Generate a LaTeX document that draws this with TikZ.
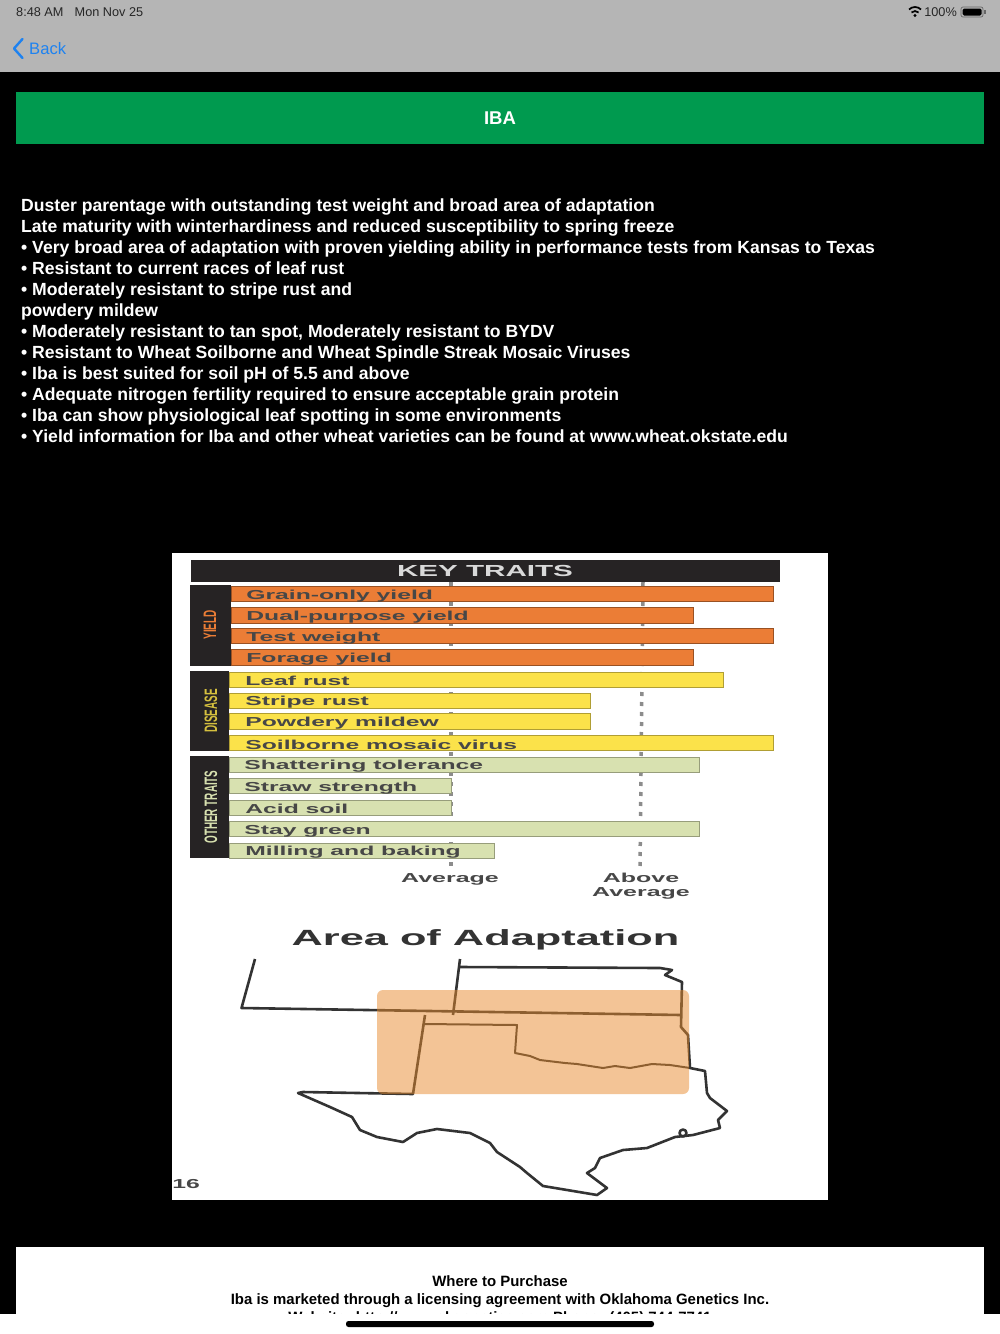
\documentclass[tikz,border=0pt]{standalone}
\usepackage{fontspec}
\setmainfont{Liberation Sans}
\usetikzlibrary{positioning}

\definecolor{barsgray}{HTML}{B5B5B5}
\definecolor{backblue}{HTML}{1E82F0}
\definecolor{headgreen}{HTML}{009A4F}
\definecolor{traitdark}{HTML}{262324}
\definecolor{traitorange}{HTML}{EB7D36}
\definecolor{traityellow}{HTML}{FBE24A}
\definecolor{traitgreen}{HTML}{D8E1B0}
\definecolor{areaorange}{HTML}{E88B2E}

\tikzset{
  statustext/.style={text=black!85, inner sep=0pt, font=\fontsize{12.7}{15}\selectfont},
  bodytext/.style={text=white, inner sep=0pt, align=left, font=\fontsize{17.6}{21}\selectfont\bfseries},
  buytext/.style={text=black, inner sep=0pt, align=center, font=\fontsize{14.95}{18}\selectfont\bfseries},
  orangebar/.style={fill=traitorange, draw=black!35!traitorange, line width=1pt},
  yellowbar/.style={fill=traityellow, draw=black!30!traityellow, line width=1pt},
  greenbar/.style={fill=traitgreen, draw=black!30!traitgreen, line width=1pt},
  barlabel/.style={anchor=west, inner sep=0pt, text=black!72, xscale=1.9, font=\fontsize{13}{15}\selectfont\bfseries},
  sidelabel/.style={rotate=90, inner sep=0pt, font=\fontsize{18}{20}\selectfont\bfseries},
  axislabel/.style={inner sep=0pt, text=black!72, align=center, xscale=1.92, font=\fontsize{13}{14}\selectfont\bfseries},
  border/.style={draw=black!80, line width=2.6pt, line join=round},
  stateline/.style={draw=black!80, line width=2pt, line join=round},
  reference/.style={draw=black!45, line width=3.5pt, dash pattern=on 4pt off 6pt},
}

\begin{document}
\begin{tikzpicture}[x=1pt, y=-1pt]
  \useasboundingbox (0,0) rectangle (1000,1334);
  \fill[black] (0,0) rectangle (1000,1334);

  % Top bar
  \fill[barsgray] (0,0) rectangle (1000,72);
  \node[statustext, anchor=west] (clock) at (16,12) {8:48 AM};
  \node[statustext, anchor=west] (today) at (74.5,12) {Mon Nov 25};
  \node[statustext, anchor=east] (charge) at (957,12) {100\%};
  \draw[black!60, line width=0.7pt, rounded corners=2pt] (961,7) rectangle (983,17);
  \fill[black, rounded corners=1.5pt] (962.5,8.5) rectangle (981.5,15.5);
  \fill[black!60] (984,10) rectangle (985.5,14);
  \fill[black] (915,15.5) circle (1.6pt);
  \draw[black, line width=1.7pt] (911.5,12.5) arc (-135:-45:5);
  \draw[black, line width=1.7pt] (909,9.5) arc (-135:-45:8.5);
  \draw[backblue, line width=2.4pt, line cap=round, line join=round] (22.5,39) -- (14,48.5) -- (22.5,58);
  \node[anchor=west, inner sep=0pt, text=backblue, font=\fontsize{16.6}{20}\selectfont] (back) at (29,48.5) {Back};

  % Title
  \fill[headgreen] (16,92) rectangle (984,144);
  \node[inner sep=0pt, text=white, font=\fontsize{18.5}{22}\selectfont\bfseries] (title) at (500,118) {IBA};

  % Description
  \node[bodytext, anchor=north west] (blurb) at (21,198.5) {Duster parentage with outstanding test weight and broad area of adaptation\\
    Late maturity with winterhardiness and reduced susceptibility to spring freeze\\
    • Very broad area of adaptation with proven yielding ability in performance tests from Kansas to Texas\\
    • Resistant to current races of leaf rust\\
    • Moderately resistant to stripe rust and\\
    powdery mildew\\
    • Moderately resistant to tan spot, Moderately resistant to BYDV\\
    • Resistant to Wheat Soilborne and Wheat Spindle Streak Mosaic Viruses\\
    • Iba is best suited for soil pH of 5.5 and above\\
    • Adequate nitrogen fertility required to ensure acceptable grain protein\\
    • Iba can show physiological leaf spotting in some environments\\
    • Yield information for Iba and other wheat varieties can be found at www.wheat.okstate.edu};

  % Picture panel
  \fill[white] (172,553) rectangle (828,1200);

  % Reference lines
  \draw[reference] (451,582) -- (451,868);
  \draw[reference] (643,582) -- (640,868);

  % Header and side blocks
  \fill[traitdark] (191,560) rectangle (780,582);
  \node[inner sep=0pt, text=black!15, xscale=1.85, font=\fontsize{16}{18}\selectfont\bfseries] (keytraits) at (485,571) {KEY TRAITS};
  \fill[traitdark] (190,585) rectangle (231,666);
  \fill[traitdark] (190,671) rectangle (229,751);
  \fill[traitdark] (190,756) rectangle (229,858);
  \node[sidelabel, text=traitorange] (yield) at (210,625) {\scalebox{.55}[1]{YIELD}};
  \node[sidelabel, text=traityellow!85!black] (disease) at (211,711) {\scalebox{.55}[1]{DISEASE}};
  \node[sidelabel, text=traitgreen] (other) at (211,807) {\scalebox{.55}[1]{OTHER TRAITS}};

  % Yield bars
  \draw[orangebar] (231,586) rectangle (773,601);
  \draw[orangebar] (231,607) rectangle (693,623);
  \draw[orangebar] (231,628) rectangle (773,643);
  \draw[orangebar] (231,649) rectangle (693,665);
  \node[barlabel] (grain) at (246,596) {Grain-only yield};
  \node[barlabel] (dual) at (246,617) {Dual-purpose yield};
  \node[barlabel] (weight) at (246,638) {Test weight};
  \node[barlabel] (forage) at (246,659) {Forage yield};

  % Disease bars
  \draw[yellowbar] (229,672) rectangle (723,687);
  \draw[yellowbar] (229,693) rectangle (590,708);
  \draw[yellowbar] (229,713) rectangle (590,729);
  \draw[yellowbar] (229,735) rectangle (773,750);
  \node[barlabel] (leaf) at (245,681) {Leaf rust};
  \node[barlabel] (stripe) at (245,702) {Stripe rust};
  \node[barlabel] (powdery) at (245,723) {Powdery mildew};
  \node[barlabel] (soilborne) at (245,744.5) {Soilborne mosaic virus};

  % Other trait bars
  \draw[greenbar] (229,757) rectangle (699,772);
  \draw[greenbar] (229,778) rectangle (451,793);
  \draw[greenbar] (229,800) rectangle (451,815);
  \draw[greenbar] (229,821) rectangle (699,836);
  \draw[greenbar] (229,843) rectangle (494,858);
  \node[barlabel] (shatter) at (244,766.5) {Shattering tolerance};
  \node[barlabel] (straw) at (244,788) {Straw strength};
  \node[barlabel] (acid) at (245,809) {Acid soil};
  \node[barlabel] (staygreen) at (244,831) {Stay green};
  \node[barlabel] (milling) at (245,852) {Milling and baking};

  % Axis words
  \node[axislabel] (average) at (450,879.5) {Average};
  \node[axislabel] (above) at (641,886.5) {Above\\Average};

  % Map
  \node[inner sep=0pt, text=black!80, xscale=1.97, font=\fontsize{22}{24}\selectfont\bfseries] (areatitle) at (485.5,940) {Area of Adaptation};
  \draw[border] (255,959) -- (241.5,1008) -- (681,1015);
  \draw[border] (460,959) -- (453,1015);
  \draw[border] (460,967) -- (660,968) -- (672,970) -- (665,975) -- (682,982) -- (681,1027) -- (688,1035) -- (690,1068) -- (705,1071) -- (707,1093) -- (710,1098) -- (727,1111) -- (718,1120) -- (720,1128) -- (693,1135) -- (675,1137) -- (647,1148) -- (623,1150) -- (600,1158) -- (595,1168) -- (587,1173) -- (607,1188) -- (597,1195) -- (543,1186) -- (527,1173) -- (520,1167) -- (497,1152) -- (490,1143) -- (470,1133) -- (437,1129) -- (417,1133) -- (403,1142) -- (377,1137) -- (360,1130) -- (352,1117) -- (330,1107) -- (298,1093) -- (303,1092) -- (413,1094) -- (425,1015);
  \draw[border] (683,1133) circle (3.5pt);
  \draw[stateline] (425,1024) -- (517,1025) -- (515,1053) -- (530,1056) -- (540,1060) -- (565,1063) -- (577,1064) -- (590,1066) -- (603,1068) -- (615,1066) -- (630,1068) -- (652,1064) -- (670,1065) -- (690,1068);
  \fill[areaorange, opacity=0.5, rounded corners=6pt] (377,990) rectangle (689,1094);
  \node[anchor=west, inner sep=0pt, text=black!72, xscale=1.9, font=\fontsize{13}{15}\selectfont\bfseries] (pagenum) at (172,1184) {16};

  % Purchase panel
  \fill[white] (16,1247) rectangle (984,1334);
  \node[buytext, anchor=north] (purchase) at (500,1275) {Where to Purchase\\
    Iba is marketed through a licensing agreement with Oklahoma Genetics Inc.\\
    Website: http://www.okgenetics.com Phone: (405) 744-7741};
  \fill[white] (0,1314) rectangle (1000,1334);
  \fill[black, rounded corners=2.5pt] (346,1321) rectangle (654,1327);
\end{tikzpicture}
\end{document}
